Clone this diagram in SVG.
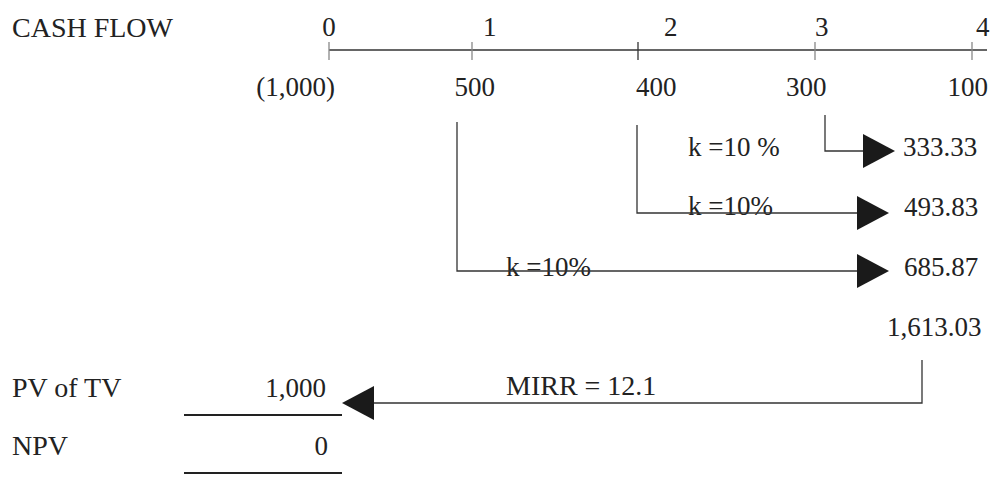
<svg xmlns="http://www.w3.org/2000/svg" width="992" height="477" viewBox="0 0 992 477">
<style>
  text { font-family: "Liberation Serif", "Times New Roman", serif; font-size: 27px; fill: #222; }
  .wide { font-size: 28px; }
  .line { stroke: #333; stroke-width: 1.3; fill: none; }
  .tick { stroke: #888; stroke-width: 1.3; }
  .tick2 { stroke: #333; stroke-width: 1.3; }
  .rule { stroke: #222; stroke-width: 2; }
  .end { text-anchor: end; }
  .mid { text-anchor: middle; }
</style>
<defs>
  <marker id="arrow" markerUnits="userSpaceOnUse" markerWidth="32" markerHeight="34" refX="0" refY="17" orient="auto" viewBox="0 0 32 34">
    <path d="M0,0 L32,17 L0,34 Z" fill="#1a1a1a"/>
  </marker>
</defs>
<rect width="992" height="477" fill="#ffffff"/>

<g id="timeline">
  <text class="wide" x="12" y="37">CASH FLOW</text>
  <line class="line" x1="329" y1="50" x2="987" y2="50"/>
  <line class="tick" x1="329" y1="42" x2="329" y2="60"/>
  <line class="tick" x1="472" y1="42" x2="472" y2="60"/>
  <line class="tick2" x1="638" y1="42" x2="638" y2="60"/>
  <line class="tick" x1="815" y1="42" x2="815" y2="60"/>
  <line class="tick" x1="972" y1="42" x2="972" y2="60"/>
  <text class="mid" x="329" y="36">0</text>
  <text x="483" y="36">1</text>
  <text x="664" y="36">2</text>
  <text x="815" y="36">3</text>
  <text x="976" y="36">4</text>
  <text class="end" x="335" y="96">(1,000)</text>
  <text class="end" x="495" y="96">500</text>
  <text x="636" y="96">400</text>
  <text x="786" y="96">300</text>
  <text class="end" x="988" y="96">100</text>
</g>

<g id="fv-333">
  <text x="688" y="156">k =10 %</text>
  <text x="903" y="156">333.33</text>
</g>
<g id="fv-493">
  <text x="688" y="215">k =10%</text>
  <text x="904" y="216">493.83</text>
</g>
<g id="fv-685">
  <text x="506" y="276">k =10%</text>
  <text x="904" y="276">685.87</text>
</g>
<g id="terminal-value">
  <text x="887" y="336">1,613.03</text>
</g>
<g id="mirr-label">
  <text class="wide" x="506" y="395">MIRR = 12.1</text>
</g>
<g id="pv-of-tv">
  <text class="wide" x="12" y="397">PV of TV</text>
  <text class="end" x="326" y="397">1,000</text>
  <line class="rule" x1="184" y1="415" x2="342" y2="415"/>
</g>
<g id="npv">
  <text class="wide" x="12" y="455">NPV</text>
  <text class="end" x="328" y="455">0</text>
  <line class="rule" x1="184" y1="473" x2="342" y2="473"/>
</g>

<g id="connectors">
  <path class="line" d="M825,115 V151 H863" marker-end="url(#arrow)"/>
  <path class="line" d="M637,125 V213 H857" marker-end="url(#arrow)"/>
  <path class="line" d="M457,122 V271 H857" marker-end="url(#arrow)"/>
  <path class="line" d="M922,360 V403 H374" marker-end="url(#arrow)"/>
</g>
</svg>
